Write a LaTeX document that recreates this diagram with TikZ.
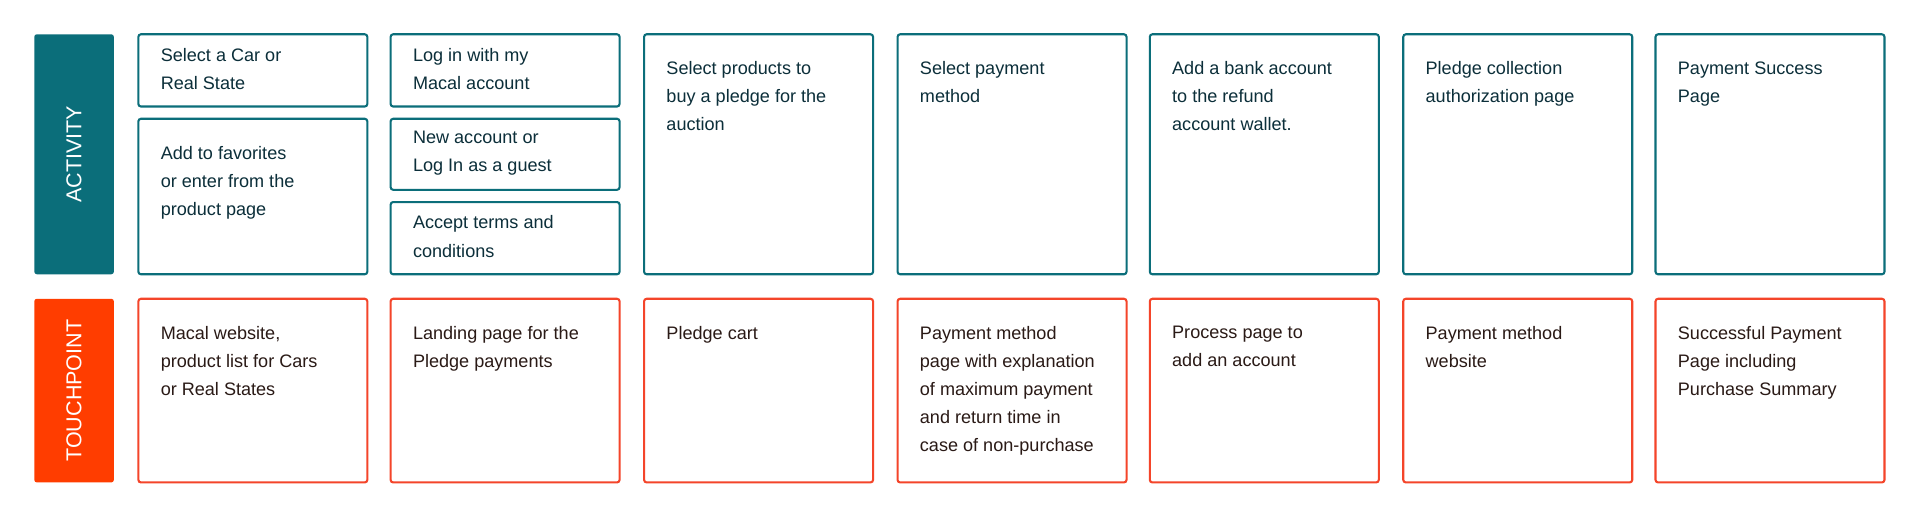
\documentclass[tikz,border=0pt]{standalone}
\usepackage{fontspec}
\setmainfont{Liberation Sans}
\definecolor{actcol}{HTML}{0B6E7A}
\definecolor{touchcol}{HTML}{FF3D00}
\definecolor{touchline}{HTML}{F4452A}
\definecolor{acttext}{HTML}{0C2F3A}
\definecolor{touchtext}{HTML}{2A1A16}
\tikzset{
  actbox/.style={draw=actcol, line width=1.2pt, rounded corners=1.5pt},
  touchbox/.style={draw=touchline, line width=1.2pt, rounded corners=1.5pt},
  bar/.style={rounded corners=1.5pt},
  barlabel/.style={rotate=90, text=white, font=\fontsize{12.5}{14}\selectfont},
  acttxt/.style={anchor=north west, align=left, inner sep=0pt, text=acttext,
    font=\fontsize{10.5}{16.3}\selectfont},
  touchtxt/.style={acttxt, text=touchtext}
}
\begin{document}
\begin{tikzpicture}[x=0.025cm, y=-0.025cm]
  \useasboundingbox[fill=white] (0,0) rectangle (1568,425);
  % bands
  \fill[actcol, bar] (28,28) rectangle (93,224);
  \node[barlabel] (lact) at (60.5,126) {ACTIVITY};
  \fill[touchcol, bar] (28,244) rectangle (93,394);
  \node[barlabel] (ltouch) at (60.5,319) {TOUCHPOINT};

  % activity
  \draw[actbox] (113,28) rectangle (300,87);
  \node[acttxt] (a1a) at (131,39) {Select a Car or\\Real State};
  \draw[actbox] (113,97) rectangle (300,224);
  \node[acttxt] (a1b) at (131,119) {Add to favorites\\or enter from the\\product page};

  \draw[actbox] (319,28) rectangle (506,87);
  \node[acttxt] (a2a) at (337,39) {Log in with my\\Macal account};
  \draw[actbox] (319,97) rectangle (506,155);
  \node[acttxt] (a2b) at (337,107) {New account or\\Log In as a guest};
  \draw[actbox] (319,165) rectangle (506,224);
  \node[acttxt] (a2c) at (337,176) {Accept terms and\\conditions};

  \draw[actbox] (526,28) rectangle (713,224);
  \node[acttxt] (a3) at (544,50) {Select products to\\buy a pledge for the\\auction};
  \draw[actbox] (733,28) rectangle (920,224);
  \node[acttxt] (a4) at (751,50) {Select payment\\method};
  \draw[actbox] (939,28) rectangle (1126,224);
  \node[acttxt] (a5) at (957,50) {Add a bank account\\to the refund\\account wallet.};
  \draw[actbox] (1146,28) rectangle (1333,224);
  \node[acttxt] (a6) at (1164,50) {Pledge collection\\authorization page};
  \draw[actbox] (1352,28) rectangle (1539,224);
  \node[acttxt] (a7) at (1370,50) {Payment Success\\Page};

  % touchpoint
  \draw[touchbox] (113,244) rectangle (300,394);
  \node[touchtxt] (t1) at (131,266) {Macal website,\\product list for Cars\\or Real States};
  \draw[touchbox] (319,244) rectangle (506,394);
  \node[touchtxt] (t2) at (337,266) {Landing page for the\\Pledge payments};
  \draw[touchbox] (526,244) rectangle (713,394);
  \node[touchtxt] (t3) at (544,266) {Pledge cart};
  \draw[touchbox] (733,244) rectangle (920,394);
  \node[touchtxt] (t4) at (751,266) {Payment method\\page with explanation\\of maximum payment\\and return time in\\case of non-purchase};
  \draw[touchbox] (939,244) rectangle (1126,394);
  \node[touchtxt] (t5) at (957,266) {Process page to\\add an account};
  \draw[touchbox] (1146,244) rectangle (1333,394);
  \node[touchtxt] (t6) at (1164,266) {Payment method\\website};
  \draw[touchbox] (1352,244) rectangle (1539,394);
  \node[touchtxt] (t7) at (1370,266) {Successful Payment\\Page including\\Purchase Summary};
\end{tikzpicture}
\end{document}
